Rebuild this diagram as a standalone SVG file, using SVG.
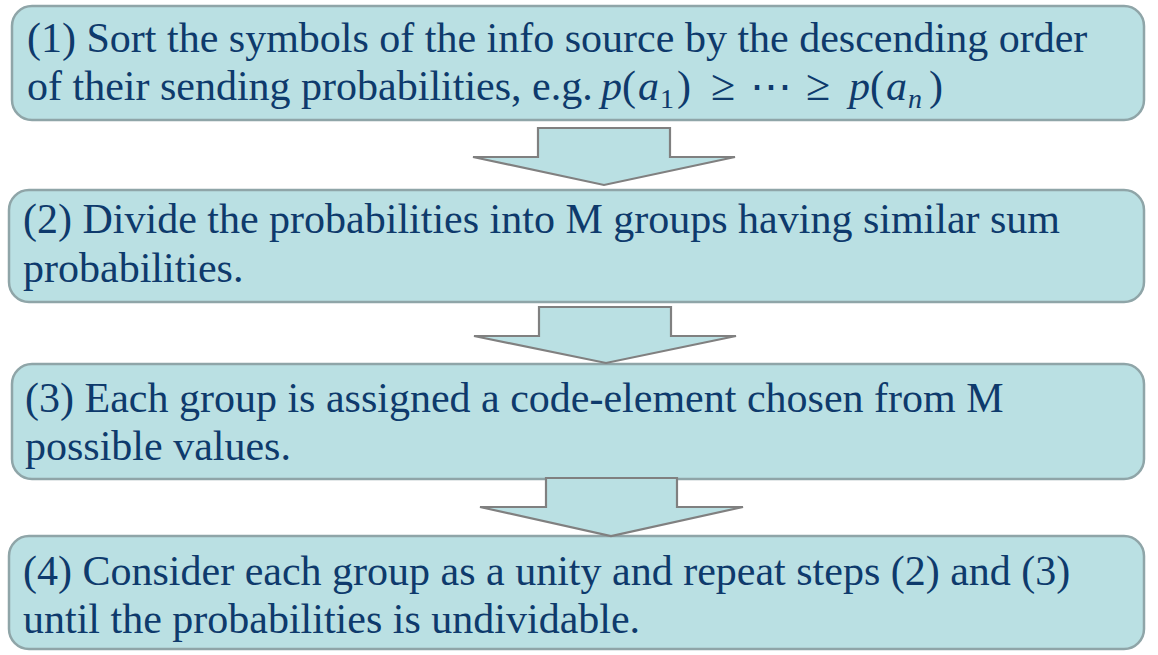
<svg xmlns="http://www.w3.org/2000/svg" width="1158" height="655" viewBox="0 0 1158 655">
<style>
.box{fill:#bae0e3;stroke:#8fa5a8;stroke-width:2.5}
.arr{fill:#bae0e3;stroke:#808080;stroke-width:2.2;stroke-linejoin:miter}
.t{font-family:"Liberation Serif","Times New Roman",serif;font-size:42px;fill:#0e3a6c}
.m{font-style:italic}
.s{font-size:28px}
.g{font-size:44px}
</style>
<rect width="1158" height="655" fill="#ffffff"/>
<g id="step1">
<rect class="box" x="12" y="6" width="1132" height="114" rx="20"/>
<text class="t" x="27" y="52">(1) Sort the symbols of the info source by the descending order</text>
<text class="t" x="27" y="100">of their sending probabilities, e.g.</text>
<text class="t" y="100"><tspan class="m" x="601">p</tspan><tspan x="622">(</tspan><tspan class="m" x="638">a</tspan><tspan class="s" x="660" dy="8">1</tspan><tspan x="677" dy="-8">)</tspan><tspan class="g" x="711">≥</tspan><tspan x="750">⋯</tspan><tspan class="g" x="806">≥</tspan><tspan class="m" x="849">p</tspan><tspan x="870">(</tspan><tspan class="m" x="886">a</tspan><tspan class="s m" x="908" dy="8">n</tspan><tspan x="929" dy="-8">)</tspan></text>
</g>
<g id="step2">
<rect class="box" x="9" y="190" width="1135" height="112" rx="20"/>
<text class="t" x="23" y="233">(2) Divide the probabilities into M groups having similar sum</text>
<text class="t" x="23" y="282">probabilities.</text>
</g>
<g id="step3">
<rect class="box" x="12" y="364" width="1132" height="115" rx="20"/>
<text class="t" x="25" y="412">(3) Each group is assigned a code-element chosen from M</text>
<text class="t" x="25" y="460">possible values.</text>
</g>
<g id="step4">
<rect class="box" x="9" y="536" width="1135" height="113" rx="20"/>
<text class="t" x="23" y="585">(4) Consider each group as a unity and repeat steps (2) and (3)</text>
<text class="t" x="23" y="633">until the probabilities is undividable.</text>
</g>
<g id="connectors">
<polygon class="arr" points="538,128 670,128 670,157 735,157 604,185 473,157 538,157"/>
<polygon class="arr" points="539,307 671,307 671,336 736,336 606,363 474,336 539,336"/>
<polygon class="arr" points="546,478 677,478 677,507 743,507 611,536 480,507 546,507"/>
</g>
</svg>
